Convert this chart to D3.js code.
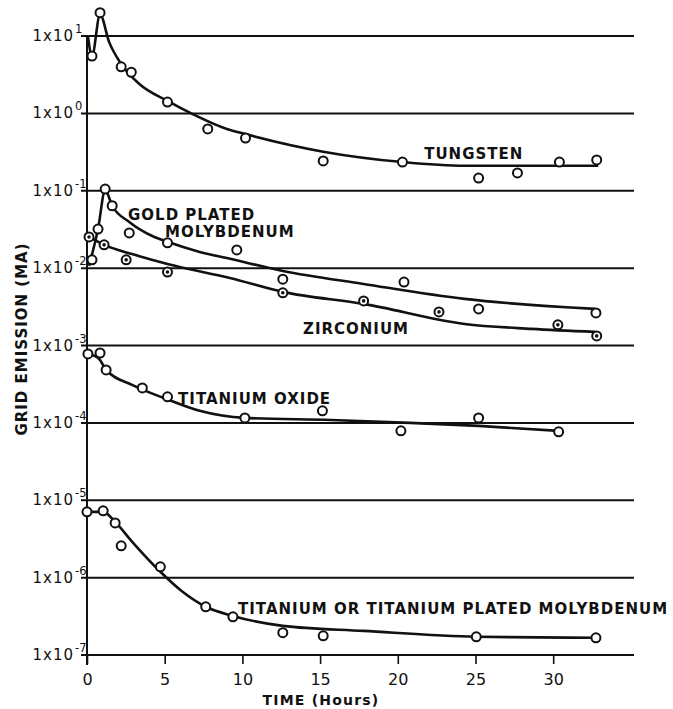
<!DOCTYPE html>
<html lang="en">
<head>
  <meta charset="utf-8">
  <title>Grid Emission vs Time</title>
  <style>
    body { margin: 0; background: #fff; }
    text { font-family: "DejaVu Sans", sans-serif; fill: #111; }
  </style>
</head>
<body>
  <script src="https://cdnjs.cloudflare.com/ajax/libs/d3/7.8.5/d3.min.js"></script>
  <script type="text/javascript">
  // measured points (hours, MA)
  const tungstenHours = [0.32, 0.84, 2.2, 2.85, 5.18, 7.77, 10.2, 15.2, 20.3, 25.2, 27.7, 30.4, 32.8];
  const tungstenVals = [5.5, 20, 4.0, 3.4, 1.4, 0.63, 0.48, 0.243, 0.235, 0.146, 0.17, 0.235, 0.25];
  const tungstenFitHours = [0.06, 0.32, 0.84, 1.42, 2.2, 3.37, 5.18, 6.8, 9.0, 10.2, 15.2, 20.3, 24.3, 32.9];
  const tungstenFitVals = [10, 5.5, 19, 8.4, 4.35, 2.4, 1.45, 0.98, 0.63, 0.54, 0.32, 0.235, 0.21, 0.21];

  const goldHours = [0.32, 0.71, 1.17, 1.62, 2.72, 5.18, 9.64, 12.6, 20.4, 25.2, 32.75];
  const goldVals = [0.0128, 0.032, 0.105, 0.064, 0.0285, 0.0212, 0.0172, 0.0072, 0.0066, 0.00297, 0.00264];
  const goldFitHours = [0.13, 0.71, 1.17, 1.62, 2.72, 4.2, 5.18, 7.25, 9.2, 12.6, 17.8, 24.3, 32.7];
  const goldFitVals = [0.0107, 0.032, 0.102, 0.064, 0.0395, 0.026, 0.0219, 0.0162, 0.0132, 0.0092, 0.00625, 0.004, 0.00297];

  const zrHours = [0.13, 1.1, 2.52, 5.18, 12.6, 17.8, 22.65, 30.3, 32.8];
  const zrVals = [0.0253, 0.02, 0.0128, 0.0089, 0.0048, 0.00377, 0.00272, 0.00185, 0.00133];
  const zrFitHours = [0.13, 1.1, 2.9, 5.18, 9.2, 12.6, 17.8, 24.3, 28.6, 32.7];
  const zrFitVals = [0.0253, 0.02, 0.0152, 0.0113, 0.00746, 0.00493, 0.00345, 0.0019, 0.00164, 0.0015];

  const tioHours = [0.06, 0.84, 1.23, 3.56, 5.18, 10.16, 15.15, 20.2, 25.2, 30.35];
  const tioVals = [0.000778, 0.0008, 0.000484, 0.000283, 0.000217, 0.000116, 0.000143, 0.0000789, 0.000116, 0.0000766];
  const tioFitHours = [0.06, 0.78, 1.23, 2.9, 5.1, 7.25, 10.16, 15.7, 20.8, 25.2, 30.35];
  const tioFitVals = [0.00078, 0.00067, 0.000484, 0.00031, 0.000204, 0.000143, 0.000116, 0.000109, 0.0001, 0.0000914, 0.0000789];

  const tiHours = [0, 1.04, 1.81, 2.2, 4.72, 7.64, 9.39, 12.6, 15.2, 25.05, 32.75];
  const tiVals = [7.08e-6, 7.3e-6, 5.1e-6, 2.58e-6, 1.38e-6, 4.2e-7, 3.12e-7, 1.94e-7, 1.77e-7, 1.72e-7, 1.67e-7];
  const tiFitHours = [0, 1.04, 1.81, 2.91, 4.72, 6.15, 7.64, 9.39, 12.6, 17.8, 25.05, 32.75];
  const tiFitVals = [7.08e-6, 7.08e-6, 5.26e-6, 2.9e-6, 1.19e-6, 6.56e-7, 4.2e-7, 3.2e-7, 2.38e-7, 2.05e-7, 1.72e-7, 1.67e-7];

  const xTicks = [0, 5, 10, 15, 20, 25, 30];
  const yExponents = [1, 0, -1, -2, -3, -4, -5, -6, -7];

  // curve labels, placed at (hours, MA) of the text's start/baseline
  const labelText = ["TUNGSTEN", "GOLD PLATED", "MOLYBDENUM", "ZIRCONIUM", "TITANIUM OXIDE",
                     "TITANIUM OR TITANIUM PLATED MOLYBDENUM"];
  const labelHours = [21.7, 2.64, 5.02, 13.9, 5.86, 9.72];
  const labelVals = [0.258, 0.042, 0.0253, 0.00141, 0.000176, 3.4e-7];

  const width = 673, height = 709;

  const svg = d3.select("body")
  .append("svg")
  .attr("width", width)
  .attr("height", height);

  const xScale = d3.scaleLinear()
  .domain([0, 35.2])
  .range([87, 634]);

  const yScale = d3.scaleLog()
  .domain([1e-7, 1e1])
  .range([655, 36]);

  // horizontal decade lines
  svg.selectAll(".grid")
  .data(yExponents)
  .enter()
  .append("line")
  .attr("x1", 81)
  .attr("x2", xScale(35.2))
  .attr("y1", d => yScale(Math.pow(10, d)))
  .attr("y2", d => yScale(Math.pow(10, d)))
  .attr("stroke", "#111")
  .attr("stroke-width", 2);

  // vertical axis
  svg.append("line")
  .attr("x1", xScale(0))
  .attr("x2", xScale(0))
  .attr("y1", yScale(1e1))
  .attr("y2", yScale(1e-7) + 10)
  .attr("stroke", "#111")
  .attr("stroke-width", 2);

  // x axis ticks + labels
  const xAxis = d3.axisBottom(xScale)
  .tickValues(xTicks)
  .tickSize(9)
  .tickPadding(10);

  const xg = svg.append("g")
  .attr("transform", `translate(0, ${yScale(1e-7)})`)
  .call(xAxis);
  xg.select(".domain").remove();
  xg.selectAll("line").attr("stroke", "#111").attr("stroke-width", 1.6);
  xg.selectAll("text")
  .style("font-family", "DejaVu Sans, sans-serif")
  .style("font-size", "16px")
  .attr("fill", "#111");

  svg.append("text")
  .attr("x", 321)
  .attr("y", 705)
  .attr("text-anchor", "middle")
  .style("font-size", "14px")
  .style("font-weight", "bold")
  .style("letter-spacing", "1.2px")
  .text("TIME (Hours)");

  // y tick labels  1x10^n
  const yl = svg.selectAll(".ylab")
  .data(yExponents)
  .enter()
  .append("g")
  .attr("transform", d => `translate(74, ${yScale(Math.pow(10, d))})`);

  yl.append("text")
  .attr("y", 5)
  .attr("text-anchor", "end")
  .style("font-size", "15px")
  .style("letter-spacing", "1px")
  .text("1x10");

  yl.append("text")
  .attr("x", 1)
  .attr("y", -3)
  .style("font-size", "11.5px")
  .text(d => d < 0 ? "-" + (-d) : d);

  svg.append("text")
  .attr("transform", "rotate(-90)")
  .attr("x", -339)
  .attr("y", 27)
  .attr("text-anchor", "middle")
  .style("font-size", "15px")
  .style("font-weight", "bold")
  .style("letter-spacing", "1px")
  .text("GRID EMISSION (MA)");

  // fitted curves
  const fits = [
    [tungstenFitHours, tungstenFitVals],
    [goldFitHours, goldFitVals],
    [zrFitHours, zrFitVals],
    [tioFitHours, tioFitVals],
    [tiFitHours, tiFitVals]
  ];

  const line = d3.line()
  .x(d => xScale(d[0]))
  .y(d => yScale(d[1]))
  .curve(d3.curveMonotoneX);

  svg.selectAll(".fit")
  .data(fits)
  .enter()
  .append("path")
  .attr("class", "fit")
  .attr("d", f => line(d3.zip(f[0], f[1])))
  .attr("fill", "none")
  .attr("stroke", "#111")
  .attr("stroke-width", 2.6);

  // open-circle points
  const openSets = [
    [tungstenHours, tungstenVals],
    [goldHours, goldVals],
    [tioHours, tioVals],
    [tiHours, tiVals]
  ];
  const openPts = openSets.flatMap(s => d3.zip(s[0], s[1]));

  svg.selectAll(".dot")
  .data(openPts)
  .enter()
  .append("circle")
  .attr("class", "dot")
  .attr("cx", d => xScale(d[0]))
  .attr("cy", d => yScale(d[1]))
  .attr("r", 4.5)
  .attr("fill", "#fff")
  .attr("stroke", "#111")
  .attr("stroke-width", 2);

  // zirconium: circle with centre mark
  const zrPts = d3.zip(zrHours, zrVals);
  const zg = svg.selectAll(".zr")
  .data(zrPts)
  .enter()
  .append("g")
  .attr("transform", d => `translate(${xScale(d[0])}, ${yScale(d[1])})`);
  zg.append("circle")
  .attr("r", 4.5)
  .attr("fill", "#fff")
  .attr("stroke", "#111")
  .attr("stroke-width", 2);
  zg.append("circle")
  .attr("r", 1.8)
  .attr("fill", "#111");

  // curve labels
  svg.selectAll(".lab")
  .data(labelText)
  .enter()
  .append("text")
  .attr("x", (d, i) => xScale(labelHours[i]))
  .attr("y", (d, i) => yScale(labelVals[i]))
  .style("font-size", "15px")
  .style("font-weight", "bold")
  .style("letter-spacing", "1px")
  .text(d => d);
  </script>
</body>
</html>
